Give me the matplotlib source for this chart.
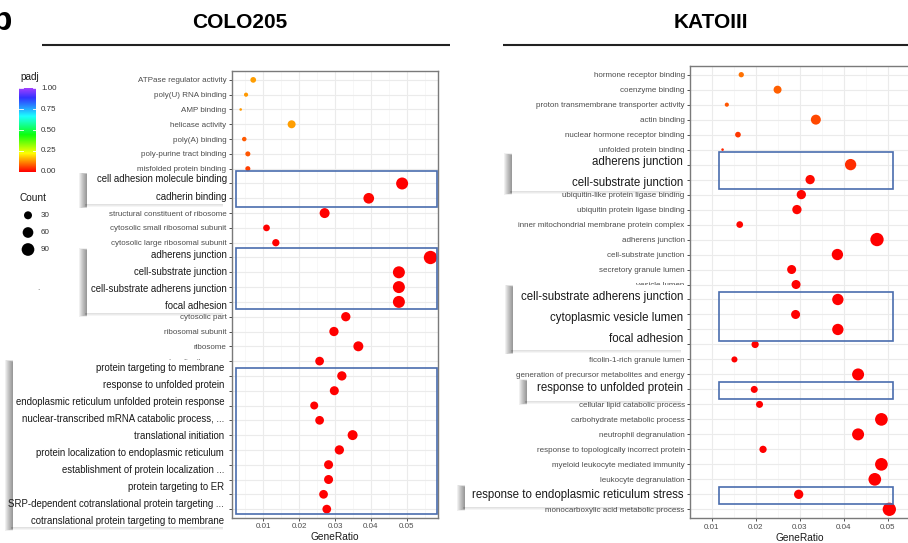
import numpy as np
import matplotlib
matplotlib.use('Agg')
import matplotlib.pyplot as plt
from matplotlib.colors import LinearSegmentedColormap, hsv_to_rgb
from matplotlib.patches import Rectangle

plt.rcParams['font.family'] = ['Liberation Sans', 'DejaVu Sans']

# ---------------- data ----------------
colo_terms = [
    'ATPase regulator activity', 'poly(U) RNA binding', 'AMP binding', 'helicase activity',
    'poly(A) binding', 'poly-purine tract binding', 'misfolded protein binding',
    'cell adhesion molecule binding', 'cadherin binding', 'structural constituent of ribosome',
    'cytosolic small ribosomal subunit', 'cytosolic large ribosomal subunit',
    'adherens junction', 'cell-substrate junction', 'cell-substrate adherens junction',
    'focal adhesion', 'cytosolic part', 'ribosomal subunit', 'ribosome', 'cytosolic ribosome',
    'protein targeting to membrane', 'response to unfolded protein',
    'endoplasmic reticulum unfolded protein response',
    'nuclear-transcribed mRNA catabolic process, ...', 'translational initiation',
    'protein localization to endoplasmic reticulum', 'establishment of protein localization ...',
    'protein targeting to ER', 'SRP-dependent cotranslational protein targeting ...',
    'cotranslational protein targeting to membrane']
colo_ratio = [0.0072, 0.0052, 0.0037, 0.0179, 0.0047, 0.0057, 0.0057, 0.0487, 0.0394, 0.0271,
              0.0109, 0.0135, 0.0566, 0.0478, 0.0478, 0.0478, 0.0330, 0.0297, 0.0365, 0.0257,
              0.0319, 0.0298, 0.0242, 0.0257, 0.0349, 0.0312, 0.0282, 0.0282, 0.0268, 0.0277]
colo_count = [14, 8, 6, 30, 9, 11, 11, 79, 60, 51, 20, 24, 101, 79, 79, 79, 43, 43, 51, 37,
              43, 40, 30, 37, 51, 43, 40, 40, 37, 37]
colo_padj = [0.14, 0.135, 0.135, 0.14, 0.08, 0.075, 0.055, 0.002, 0.004, 0.001, 0.003, 0.003,
             0.0, 0.0, 0.0, 0.0, 0.0, 0.0, 0.0, 0.0, 0.0, 0.0, 0.0, 0.0, 0.0, 0.0, 0.0, 0.0,
             0.0, 0.0]

kato_terms = [
    'hormone receptor binding', 'coenzyme binding', 'proton transmembrane transporter activity',
    'actin binding', 'nuclear hormone receptor binding', 'unfolded protein binding',
    'adherens junction', 'cell-substrate junction', 'ubiquitin-like protein ligase binding',
    'ubiquitin protein ligase binding', 'inner mitochondrial membrane protein complex',
    'adherens junction', 'cell-substrate junction', 'secretory granule lumen', 'vesicle lumen',
    'cell-substrate adherens junction', 'cytoplasmic vesicle lumen', 'focal adhesion',
    'tertiary granule lumen', 'ficolin-1-rich granule lumen',
    'generation of precursor metabolites and energy', 'response to unfolded protein',
    'cellular lipid catabolic process', 'carbohydrate metabolic process',
    'neutrophil degranulation', 'response to topologically incorrect protein',
    'myeloid leukocyte mediated immunity', 'leukocyte degranulation',
    'response to endoplasmic reticulum stress', 'monocarboxylic acid metabolic process']
kato_ratio = [0.01665, 0.0249, 0.01337, 0.0336, 0.0159, 0.0124, 0.0415, 0.0323, 0.0303, 0.0293,
              0.0163, 0.0475, 0.0385, 0.0281, 0.0291, 0.0386, 0.0290, 0.0386, 0.0198, 0.0151,
              0.0432, 0.0196, 0.0208, 0.0485, 0.0432, 0.0216, 0.0485, 0.0470, 0.0297, 0.0503]
kato_count = [12, 30, 8, 51, 14, 6, 69, 43, 43, 43, 20, 101, 69, 40, 40, 69, 40, 69, 24, 16,
              79, 22, 22, 90, 79, 24, 90, 90, 43, 101]
kato_padj = [0.10, 0.085, 0.075, 0.065, 0.05, 0.035, 0.04, 0.01, 0.005, 0.005, 0.005, 0.002,
             0.002, 0.0, 0.0, 0.0, 0.0, 0.0, 0.0, 0.0, 0.0, 0.0, 0.0, 0.0, 0.0, 0.0, 0.0, 0.0,
             0.0, 0.0]

panel_titles = ['COLO205', 'KATOIII']
x_ticks = [0.01, 0.02, 0.03, 0.04, 0.05]
x_tick_labels = ['0.01', '0.02', '0.03', '0.04', '0.05']
padj_breaks = [0.0, 0.25, 0.5, 0.75, 1.0]
padj_labels = ['0.00', '0.25', '0.50', '0.75', '1.00']
count_breaks = [30, 60, 90]

# highlighted labels (pasted call-outs)
colo_hl = [
    ['cell adhesion molecule binding', 'cadherin binding'],
    ['adherens junction', 'cell-substrate junction', 'cell-substrate adherens junction',
     'focal adhesion'],
    ['protein targeting to membrane', 'response to unfolded protein',
     'endoplasmic reticulum unfolded protein response',
     'nuclear-transcribed mRNA catabolic process, ...', 'translational initiation',
     'protein localization to endoplasmic reticulum', 'establishment of protein localization ...',
     'protein targeting to ER', 'SRP-dependent cotranslational protein targeting ...',
     'cotranslational protein targeting to membrane']]
kato_hl = [
    ['adherens junction', 'cell-substrate junction'],
    ['cell-substrate adherens junction', 'cytoplasmic vesicle lumen', 'focal adhesion'],
    ['response to unfolded protein'],
    ['response to endoplasmic reticulum stress']]

# ---------------- style / layout ----------------
W, H = 908, 543
fig = plt.figure(figsize=(W / 100, H / 100), dpi=100)

t = np.linspace(0, 1, 256)
cols = hsv_to_rgb(np.stack([0.75 * t, 1 - 0.25 * t ** 2, np.ones_like(t)], axis=1))
cmap = LinearSegmentedColormap.from_list('padj', cols)

# call-out boxes in pixels: (x0, y0, x1, y1, label y positions, text right x, font size)
colo_callouts = [
    (87, 172.7, 228.5, 204, [179.3, 196.7], 227, 6.9),
    (87, 248.3, 228.5, 312.7, [255, 272.3, 289.3, 306.3], 227, 6.9),
    (13, 360, 228.5, 526.7, list(368.3 + 16.93 * np.arange(10)), 224, 6.9)]
kato_callouts = [
    (511.7, 153.3, 686.5, 190.7, [161.7, 183.3], 683, 8.3),
    (513.3, 285, 686.5, 350, [296.7, 318.3, 338.7], 683, 8.3),
    (527, 379.3, 686.5, 400.7, [388.5], 683, 8.3),
    (465, 485, 686.5, 506.7, [494.8], 683, 8.3)]


def msize(c):
    d_px = 2.6 + 1.1 * np.sqrt(np.clip(np.asarray(c, float) - 6, 0, None))
    return (d_px * 0.72) ** 2


def px_axes(x0, y0, x1, y1, **kw):
    return fig.add_axes([x0 / W, 1 - y1 / H, (x1 - x0) / W, (y1 - y0) / H], **kw)


def draw_panel(ext, terms, ratio, count, padj, xlim, callouts):
    ax = px_axes(*ext)
    n = len(terms)
    y = np.arange(1, n + 1)
    ylo, yhi = 0.4, n + 0.6
    # rows whose label lies fully under a call-out box are not visible in the reference
    top, bot = ext[1], ext[3]
    ypix = top + (y - ylo) / (yhi - ylo) * (bot - top)
    shown = []
    for term, yp in zip(terms, ypix):
        covered = any(c[1] + 3.5 < yp < c[3] - 3.5 for c in callouts)
        shown.append('' if covered else term)
    ax.set_xlim(*xlim)
    ax.set_ylim(yhi, ylo)
    ax.set_yticks(y)
    ax.set_yticklabels(shown)
    ax.set_xticks(x_ticks)
    ax.set_xticklabels(x_tick_labels)
    ax.set_xticks([v - 0.005 for v in x_ticks] + [x_ticks[-1] + 0.005], minor=True)
    ax.grid(which='major', color='#EBEBEB', lw=0.8)
    ax.grid(which='minor', axis='x', color='#F3F3F3', lw=0.45)
    ax.set_axisbelow(True)
    ax.scatter(ratio, y, s=msize(count), c=padj, cmap=cmap, vmin=0, vmax=1,
               linewidths=0, zorder=3)
    ax.tick_params(axis='both', which='major', length=2.2, width=0.6, color='#333333',
                   pad=1.6, labelsize=5.8, labelcolor='#4D4D4D')
    ax.tick_params(which='minor', length=0)
    for s in ax.spines.values():
        s.set_color('#7A7A7A')
        s.set_linewidth(1.0)
    ax.set_xlabel('GeneRatio', fontsize=7.3, color='#1A1A1A', labelpad=1.5)
    return ax


axL = draw_panel((231.7, 71, 438, 518), colo_terms, colo_ratio, colo_count, colo_padj,
                 (0.0012, 0.0587), colo_callouts)
axR = draw_panel((690, 65.7, 910, 518.3), kato_terms, kato_ratio, kato_count, kato_padj,
                 (0.01053, 0.0522), kato_callouts)

# blue highlight boxes inside panels: (row_top, row_bottom) in row units, x in GeneRatio
box_col = '#4A6DAE'
for ax, xr, rows in [(axL, (0.0023, 0.0584), [(7.13, 9.59), (12.35, 16.46), (20.48, 30.31)]),
                     (axR, (0.0116, 0.0511), [(6.15, 8.66), (15.47, 18.8), (21.5, 22.64),
                                               (28.5, 29.63)])]:
    for r0, r1 in rows:
        ax.add_patch(Rectangle((xr[0], r0), xr[1] - xr[0], r1 - r0, fill=False,
                               edgecolor=box_col, lw=1.2, zorder=5, clip_on=False))

# overlay axes in pixel coordinates
ov = fig.add_axes([0, 0, 1, 1], zorder=10)
ov.set_xlim(0, W)
ov.set_ylim(H, 0)
ov.axis('off')
ov.patch.set_alpha(0)


def callout(x0, y0, x1, y1, ys, xr, fs, labels):
    for k in range(1, 9):
        ov.add_patch(Rectangle((x0 - k, y0 + 2 - 0.25 * k), k, (y1 - y0) + 0.5 * k,
                               facecolor='black', alpha=0.06, lw=0, zorder=1))
    for k in range(1, 4):
        ov.add_patch(Rectangle((x0 - 2, y1), (x1 - x0) - 4, k, facecolor='black',
                               alpha=0.04, lw=0, zorder=1))
    ov.add_patch(Rectangle((x0, y0), x1 - x0, y1 - y0, facecolor='white', lw=0, zorder=2))
    for lab, yy in zip(labels, ys):
        ov.text(xr, yy, lab, ha='right', va='center', fontsize=fs, color='#1A1A1A', zorder=3)


for spec, labs in zip(colo_callouts, colo_hl):
    callout(*spec, labs)
for spec, labs in zip(kato_callouts, kato_hl):
    callout(*spec, labs)

# titles and rules
fig.text(239.5 / W, 1 - 22.5 / H, panel_titles[0], ha='center', va='center', fontsize=15,
         fontweight='bold', color='black')
fig.text(710.5 / W, 1 - 22.5 / H, panel_titles[1], ha='center', va='center', fontsize=15,
         fontweight='bold', color='black')
ov.plot([42, 450], [45, 45], color='#222222', lw=1.5, solid_capstyle='butt')
ov.plot([503, 910], [45, 45], color='#222222', lw=1.5, solid_capstyle='butt')
fig.text(12 / W, 1 - 30 / H, 'b', ha='right', va='baseline', fontsize=24, fontweight='bold')
ov.text(38, 289, '.', ha='center', va='center', fontsize=6, color='#555555')

# legend: padj colorbar
ov.text(20, 77, 'padj', ha='left', va='center', fontsize=7.2, color='#1A1A1A')
cb = px_axes(19.3, 88.3, 36, 171.7)
cb.imshow(np.linspace(0, 1, 200).reshape(-1, 1), cmap=cmap, aspect='auto', origin='lower',
          extent=(0, 1, 0, 1))
cb.set_xlim(0, 1)
cb.set_ylim(0, 1)
cb.axis('off')
for b in padj_breaks:
    cb.plot([0, 0.2], [b, b], color='white', lw=0.6)
    cb.plot([0.8, 1], [b, b], color='white', lw=0.6)
for b, lab in zip(padj_breaks, padj_labels):
    yy = 171.7 - b * (171.7 - 88.3)
    ov.text(41, yy, lab, ha='left', va='center', fontsize=5.8, color='#333333')

# legend: Count
ov.text(20, 197.7, 'Count', ha='left', va='center', fontsize=7.3, color='#1A1A1A')
cy = [215.3, 232.5, 249.5]
ov.scatter([28] * 3, cy, s=msize(count_breaks), color='black', linewidths=0)
for c, yy in zip(count_breaks, cy):
    ov.text(41, yy, str(c), ha='left', va='center', fontsize=5.8, color='#333333')

fig.savefig('out.png', dpi=100)
